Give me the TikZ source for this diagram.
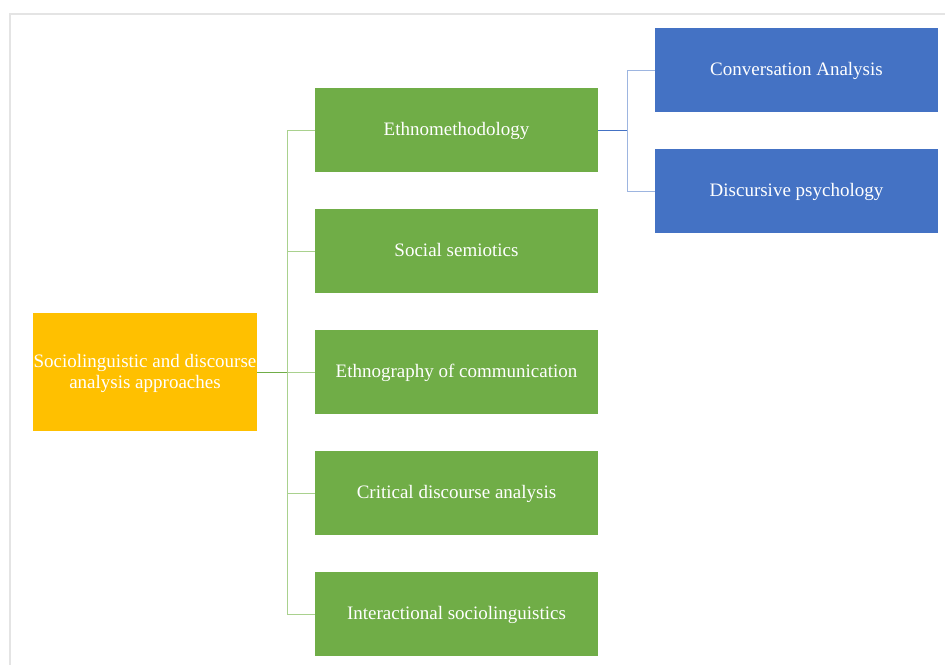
\documentclass[tikz,border=0pt]{standalone}
\usepackage{fontspec}
\setmainfont{Liberation Serif}
\usetikzlibrary{positioning}
\definecolor{rootorange}{HTML}{FFC000}
\definecolor{catgreen}{HTML}{70AD47}
\definecolor{subblue}{HTML}{4472C4}
\definecolor{linegreen}{HTML}{A9D18E}
\definecolor{lineblue}{HTML}{9DB5E0}
\definecolor{framegray}{HTML}{E4E4E4}

\begin{document}
\begin{tikzpicture}[x=1pt, y=-1pt]
                \tikzstyle{box} = [shape=rectangle, text=white, font=\fontsize{19}{21}\selectfont, align=center, inner sep=0pt, text depth=2pt];
                \tikzstyle{root} = [box, fill=rootorange, minimum width=224pt, minimum height=118pt];
                \tikzstyle{approach} = [box, fill=catgreen, minimum width=283pt, minimum height=84pt];
                \tikzstyle{sub} = [box, fill=subblue, minimum width=283pt, minimum height=84pt];

                \useasboundingbox (0,0) rectangle (945,665);
                \draw[framegray, line width=2pt] (10,665) -- (10,14) -- (945,14);

                \node[root](Root) at (145,372) {Sociolinguistic and discourse\\analysis approaches};

                \node[approach](Ethno) at (456.5,130) {Ethnomethodology};
                \node[approach](Semio) at (456.5,251) {Social semiotics};
                \node[approach](Comm) at (456.5,372) {Ethnography of communication};
                \node[approach](CDA) at (456.5,493) {Critical discourse analysis};
                \node[approach](Inter) at (456.5,614) {Interactional sociolinguistics};

                \node[sub](Conv) at (796.5,70) {Conversation Analysis};
                \node[sub](Psych) at (796.5,191) {Discursive psychology};

                \coordinate (T1) at (287,372);
                \coordinate (T2) at (627,130);

                \draw[catgreen, line width=1pt] (Root.east) -- (T1);
                \draw[linegreen, line width=1pt]
                    (T1) |- (Ethno.west)
                    (T1) |- (Semio.west)
                    (T1) -- (Comm.west)
                    (T1) |- (CDA.west)
                    (T1) |- (Inter.west)
                ;
                \draw[subblue, line width=1pt] (Ethno.east) -- (T2);
                \draw[lineblue, line width=1pt]
                    (T2) |- (Conv.west)
                    (T2) |- (Psych.west)
                ;
            \end{tikzpicture}
\end{document}
